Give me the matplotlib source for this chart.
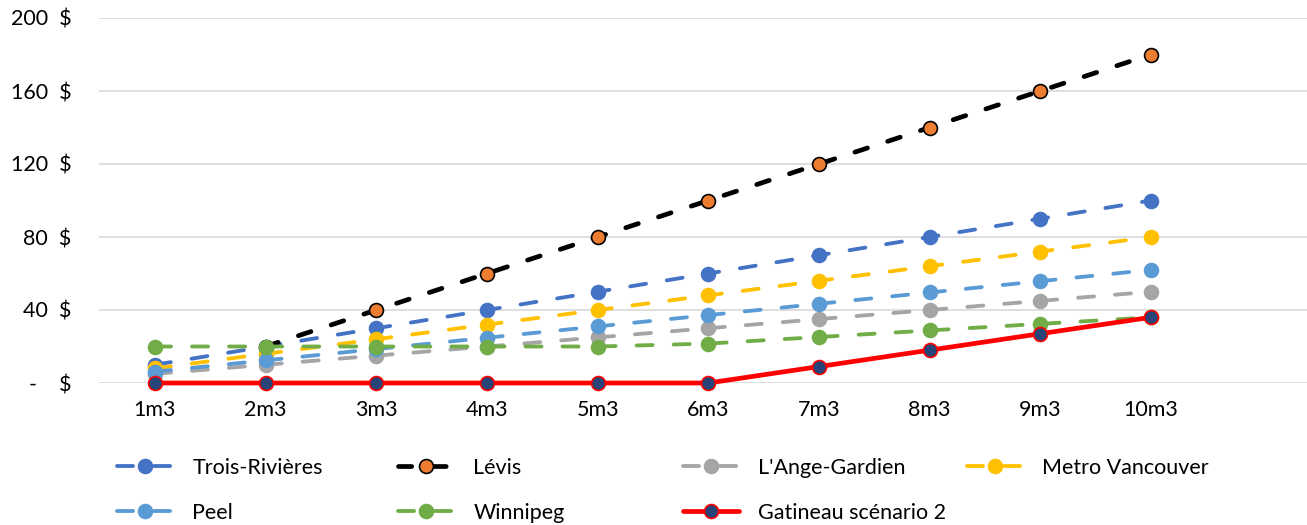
import numpy as np
from matplotlib import pyplot as plt
from matplotlib.lines import Line2D

plt.rcParams['font.family'] = ['Lato', 'DejaVu Sans']

categories = ['1m3', '2m3', '3m3', '4m3', '5m3', '6m3', '7m3', '8m3', '9m3', '10m3']
trois_rivieres = [10, 20, 30, 40, 50, 60, 70, 80, 90, 100]
levis = [np.nan, 20, 40, 60, 80, 100, 120, 140, 160, 180]
ange_gardien = [5, 10, 15, 20, 25, 30, 35, 40, 45, 50]
metro_vancouver = [8, 16, 24, 32, 40, 48, 56, 64, 72, 80]
peel = [6.2, 12.4, 18.6, 24.8, 31, 37.2, 43.4, 49.6, 55.8, 62]
winnipeg = [20, 20, 20, 20, 20, 21.6, 25.2, 28.8, 32.4, 36]
gatineau = [0, 0, 0, 0, 0, 0, 9, 18, 27, 36]
yticks = [0, 40, 80, 120, 160, 200]
ytick_labels = ['-    $', '40  $', '80  $', '120  $', '160  $', '200  $']

W, H = 1307, 525
fig = plt.figure(figsize=(W / 100, H / 100), dpi=100)
ax = fig.add_axes([99 / W, 142 / H, 1208 / W, 365 / H])
x = np.arange(1, len(categories) + 1)

DASH_C = (4.2, 5.5)
DASH_K = (2.8, 4.5)
series = [
    ('Trois-Rivières', trois_rivieres, '#4472C4', '#4472C4', '#4472C4', 2.75, DASH_C),
    ('Lévis', levis, 'black', '#ED7D31', 'black', 3.4, DASH_K),
    ("L'Ange-Gardien", ange_gardien, '#A5A5A5', '#A5A5A5', '#A5A5A5', 2.75, DASH_C),
    ('Metro Vancouver', metro_vancouver, '#FFC000', '#FFC000', '#FFC000', 2.75, DASH_C),
    ('Peel', peel, '#5B9BD5', '#5B9BD5', '#5B9BD5', 2.75, DASH_C),
    ('Winnipeg', winnipeg, '#70AD47', '#70AD47', '#70AD47', 2.75, DASH_C),
    ('Gatineau scénario 2', gatineau, '#FF0000', '#264478', '#FF0000', 3.4, None),
]

handles = []
for name, vals, col, mfc, mec, lw, dash in series:
    kw = dict(color=col, lw=lw, marker='o', ms=10, mfc=mfc, mec=mec,
              mew=1.2, clip_on=False, solid_capstyle='round')
    if dash:
        kw.update(ls=(0, dash), dash_capstyle='round')
    ln, = ax.plot(x, vals, label=name, **kw)
    handles.append(ln)

ax.set_xlim(0.494, 11.41)
ax.set_ylim(0, 200)
ax.set_xticks(x)
ax.set_xticklabels(categories, fontsize=15.5)
ax.set_yticks(yticks)
ax.set_yticklabels(ytick_labels, fontsize=15.5)
ax.tick_params(axis='both', length=0)
ax.tick_params(axis='y', pad=20)
ax.tick_params(axis='x', pad=12)
ax.grid(axis='y', color='#D9D9D9', lw=1.2)
ax.set_axisbelow(True)
for s in ax.spines.values():
    s.set_visible(False)

# legend, one entry per slot (Excel lays them out on a fixed grid)
slots = [(117, 468), (398, 468), (683, 468), (967, 468),
         (117, 513), (398, 513), (683, 513)]
for h, (lx, ly) in zip(handles, slots):
    fig.legend([h], [h.get_label()], loc='center left',
               bbox_to_anchor=(lx / W, 1 - ly / H), frameon=False,
               borderpad=0, borderaxespad=0, handlelength=2.6,
               handletextpad=0.9, fontsize=15.5)

fig.savefig('out.png', dpi=100)
